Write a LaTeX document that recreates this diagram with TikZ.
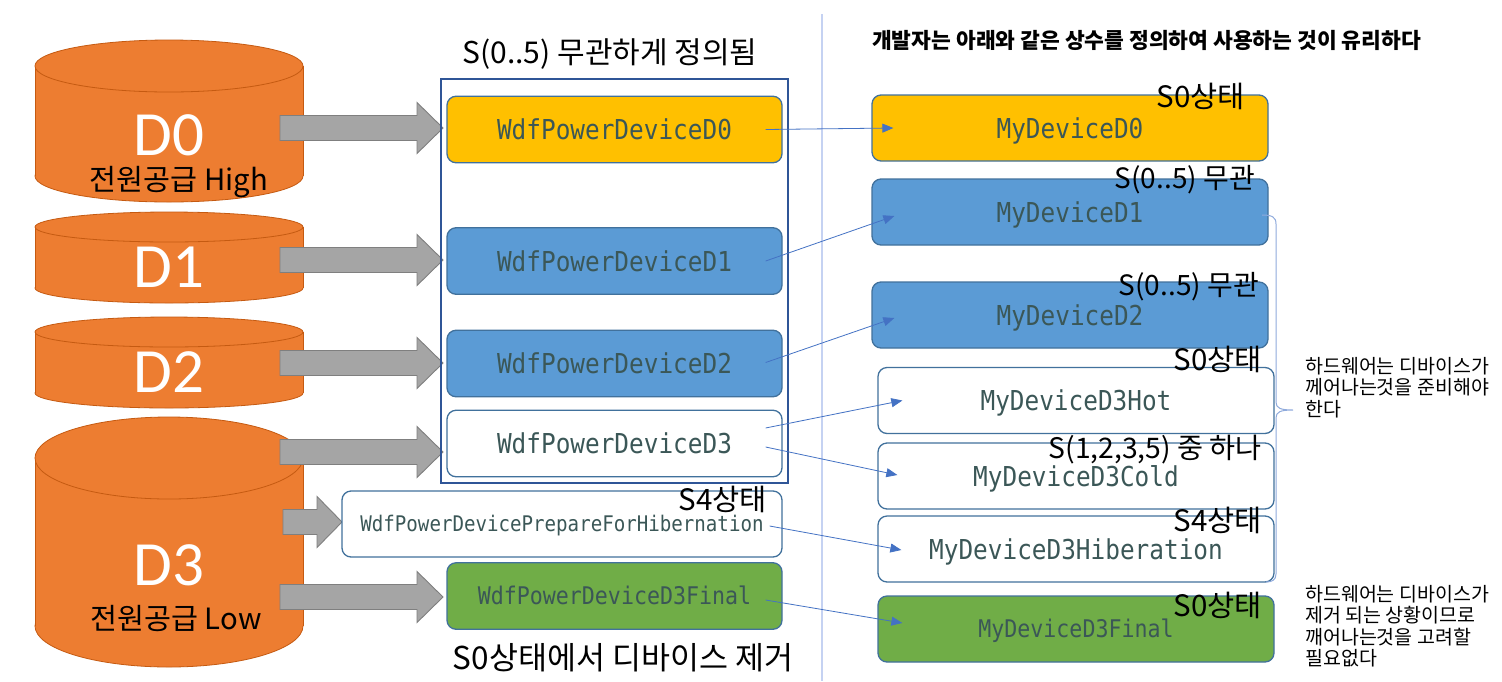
\documentclass[tikz,border=0pt]{standalone}
\usepackage{fontspec}
\setmainfont{Noto Sans CJK KR}
\newfontfamily\codefont[FakeStretch=0.89]{DejaVu Sans Mono}
\newfontfamily\capfont{Carlito}
\usetikzlibrary{arrows.meta,calc}

\definecolor{cylfill}{HTML}{ED7D31}
\definecolor{cylline}{HTML}{C55A11}
\definecolor{garfill}{HTML}{A5A5A5}
\definecolor{garline}{HTML}{7F7F7F}
\definecolor{gold}{HTML}{FFC000}
\definecolor{sky}{HTML}{5B9BD5}
\definecolor{leaf}{HTML}{70AD47}
\definecolor{boxline}{HTML}{41719C}
\definecolor{frameline}{HTML}{2F5597}
\definecolor{codeink}{HTML}{3B5757}
\definecolor{linkline}{HTML}{4472C4}
\definecolor{divider}{HTML}{C5D2F2}
\definecolor{bracecol}{HTML}{8FAADC}

\tikzset{
  cylstyle/.style={fill=cylfill, draw=cylline, line width=0.8pt},
  grayarrowstyle/.style={fill=garfill, draw=garline, line width=0.9pt},
  codebox/.style={draw=boxline, line width=1.3pt, rounded corners=9pt, inner sep=0pt,
    text=codeink, text height=20pt, text depth=0pt,
    font=\codefont\fontsize{27.4}{30}\selectfont},
  smallcode/.style={text height=15.7pt, font=\codefont\fontsize{21.5}{24}\selectfont},
  finalcode/.style={text height=17.7pt, font=\codefont\fontsize{24.3}{27}\selectfont},
  midbox/.style={codebox, minimum width=335pt, minimum height=66.5pt},
  rightbox/.style={codebox, minimum width=396pt, minimum height=66pt},
  statelabel/.style={inner sep=0pt, anchor=base east, font=\fontsize{29.5}{31}\selectfont},
  dlabel/.style={inner sep=0pt, anchor=base, text=white, text depth=0pt,
    font=\capfont\fontsize{63}{66}\selectfont},
  supply/.style={inner sep=0pt, anchor=base, text height=21pt, font=\fontsize{29.3}{31}\selectfont},
  link/.style={draw=linkline, line width=0.8pt, -{Triangle[length=11pt,width=9pt]}},
  note/.style={inner sep=0pt, anchor=north west, align=left, font=\fontsize{19.5}{21.5}\selectfont},
}

% cylinder: centre x, x radius, top ellipse y, bottom ellipse y, y radius
\newcommand\drumshape[5]{%
  \filldraw[cylstyle] (#1,#4) ellipse[x radius=#2, y radius=#5];
  \fill[cylfill] (#1-#2,#3) rectangle (#1+#2,#4);
  \draw[cylline, line width=0.8pt] (#1-#2,#3) -- (#1-#2,#4) (#1+#2,#3) -- (#1+#2,#4);
  \filldraw[cylstyle] (#1,#3) ellipse[x radius=#2, y radius=#5];}

% block arrow: start x, tip x, centre y, head length
\newcommand\grayarrow[4]{%
  \filldraw[grayarrowstyle] (#1,#3-12.5) -- (#2-#4,#3-12.5) -- (#2-#4,#3-25.5) -- (#2,#3)
    -- (#2-#4,#3+25.5) -- (#2-#4,#3+12.5) -- (#1,#3+12.5) -- cycle;}

\begin{document}
\begin{tikzpicture}[x=1pt,y=-1pt]
\useasboundingbox (0,0) rectangle (1502,681);
\fill[white] (0,0) rectangle (1502,681);

% power-state drums
\drumshape{169}{134}{66}{176}{26}
\drumshape{169}{134}{227}{288}{15}
\drumshape{169}{134}{332}{393}{15}
\drumshape{169}{134}{458}{626}{41}

\node[dlabel] (d0) at (169,155) {D0};
\node[dlabel] (d1) at (169,287) {D1};
\node[dlabel] (d2) at (169,392) {D2};
\node[dlabel] (d3) at (169,585) {D3};
\node[supply] (high) at (179,190) {전원공급 High};
\node[supply] (low) at (176,629) {전원공급 Low};

% block arrows into the WDF constants
\grayarrow{280}{443}{128}{26}
\grayarrow{280}{443}{260}{26}
\grayarrow{280}{443}{363}{26}
\grayarrow{280}{443}{452}{26}
\grayarrow{283}{342}{522}{25}
\grayarrow{280}{443}{597}{26}

% frame around the S-independent constants
\draw[frameline, line width=1.3pt] (441,79) rectangle (788,483);
\node[inner sep=0pt, anchor=base, font=\fontsize{30}{32}\selectfont] (ftitle) at (610,63) {S(0..5) 무관하게 정의됨};

% WDF constants
\node[midbox, fill=gold] (w0) at (614.5,129.5) {WdfPowerDeviceD0};
\node[midbox, fill=sky] (w1) at (614.5,261) {WdfPowerDeviceD1};
\node[midbox, fill=sky] (w2) at (614.5,363.5) {WdfPowerDeviceD2};
\node[midbox, fill=white] (w3) at (614.5,443.5) {WdfPowerDeviceD3};
\node[codebox, smallcode, fill=white, minimum width=440pt, minimum height=66pt] (wp) at (562,524) {WdfPowerDevicePrepareForHibernation};
\node[midbox, finalcode, fill=leaf] (wf) at (614.5,596) {WdfPowerDeviceD3Final};
\node[inner sep=0pt, anchor=base, font=\fontsize{31.5}{33}\selectfont] (removed) at (623,669) {S0상태에서 디바이스 제거};

% divider
\draw[divider, line width=2pt] (822,14) -- (822,681);

% developer-defined constants
\node[inner sep=0pt, anchor=base west, font=\bfseries\fontsize{21.5}{24}\selectfont] (rtitle) at (872,48) {개발자는 아래와 같은 상수를 정의하여 사용하는 것이 유리하다};

\node[rightbox, fill=gold] (r0) at (1070,128) {MyDeviceD0};
\node[rightbox, fill=sky] (r1) at (1070,212) {MyDeviceD1};
\node[rightbox, fill=sky] (r2) at (1070,315) {MyDeviceD2};
\node[rightbox, fill=white] (rh) at (1076,400.5) {MyDeviceD3Hot};
\node[rightbox, fill=white] (rc) at (1076,476) {MyDeviceD3Cold};
\node[rightbox, fill=white] (rb) at (1076,549) {MyDeviceD3Hiberation};
\node[rightbox, finalcode, fill=leaf] (rf) at (1076,629) {MyDeviceD3Final};

% mapping lines
\draw[link] ([xshift=-17pt]w0.east) -- ([xshift=22pt]r0.west);
\draw[link] ([xshift=-17pt]w1.east) -- ([shift={(23,4)}]r1.west);
\draw[link] ([shift={(-17,-1)}]w2.east) -- ([shift={(23,3)}]r2.west);
\draw[link] ([shift={(-17,-15.5)}]w3.east) -- ([xshift=25pt]rh.west);
\draw[link] ([shift={(-17,3.5)}]w3.east) -- ([shift={(20,-1)}]rc.west);
\draw[link] ([shift={(-13,2)}]wp.east) -- ([shift={(24,1)}]rb.west);
\draw[link] ([shift={(-17,4)}]wf.east) -- ([shift={(25,-6)}]rf.west);

% system-state labels
\node[statelabel] (s4mid) at (767,510) {S4상태};
\node[statelabel] (l0) at (1245,107) {S0상태};
\node[statelabel, font=\fontsize{28}{30}\selectfont] (l1) at (1255,188) {S(0..5) 무관};
\node[statelabel, font=\fontsize{28}{30}\selectfont] (l2) at (1259,295) {S(0..5) 무관};
\node[statelabel] (lh) at (1262,370) {S0상태};
\node[statelabel, font=\fontsize{28.3}{30}\selectfont] (lc) at (1262,458) {S(1,2,3,5) 중 하나};
\node[statelabel] (lb) at (1262,531) {S4상태};
\node[statelabel] (lf) at (1262,616) {S0상태};

% brace over D1..D3Hiberation
\draw[bracecol, line width=1pt] (1262,215) .. controls (1272,215) and (1276,217) .. (1276,224)
  -- (1276,402) .. controls (1276,408) and (1280,410) .. (1293,410)
  .. controls (1280,410) and (1276,412) .. (1276,418)
  -- (1276,574) .. controls (1276,580) and (1272,582) .. (1266,582);

% notes
\node[note] (note1) at (1305,357) {하드웨어는 디바이스가\\께어나는것을 준비해야\\한다};
\node[note] (note2) at (1305,585) {하드웨어는 디바이스가\\제거 되는 상황이므로\\깨어나는것을 고려할\\필요없다};
\end{tikzpicture}
\end{document}
